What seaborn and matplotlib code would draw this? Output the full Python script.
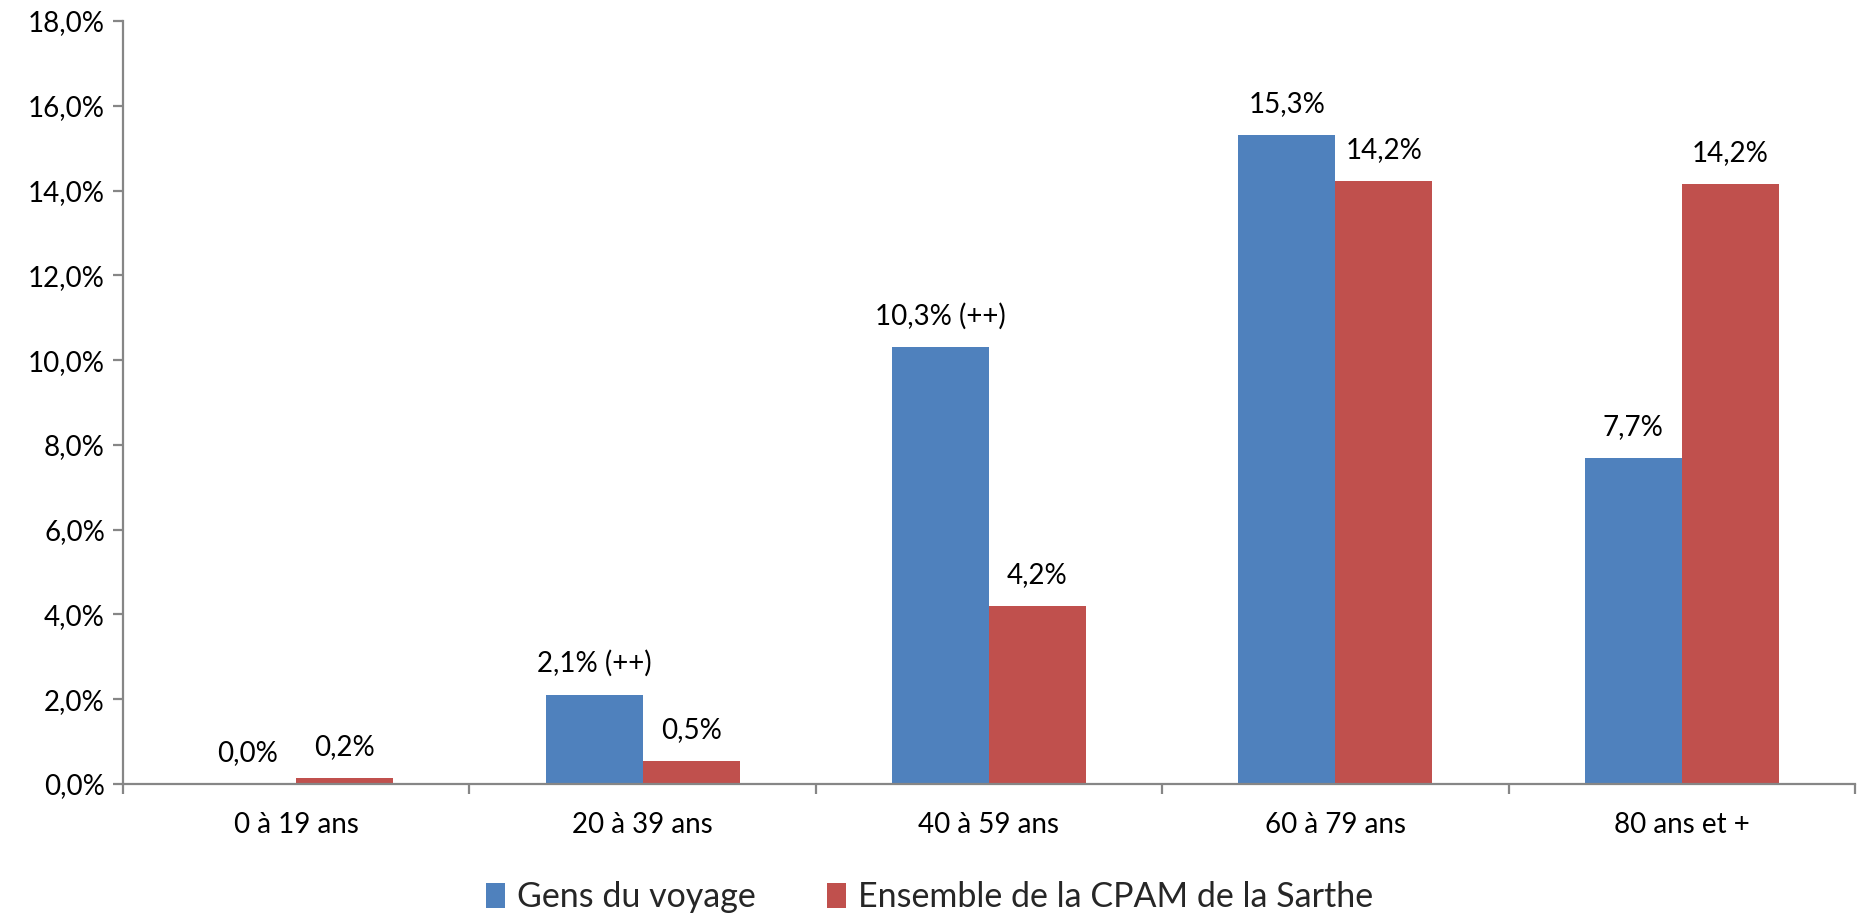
import matplotlib
matplotlib.use("Agg")
import matplotlib.pyplot as plt
import seaborn as sns
import pandas as pd
from matplotlib.patches import Patch
from matplotlib.ticker import FuncFormatter, FixedLocator

categories = ["0 à 19 ans", "20 à 39 ans", "40 à 59 ans", "60 à 79 ans", "80 ans et +"]
series_names = ["Gens du voyage", "Ensemble de la CPAM de la Sarthe"]
gens_values = [0.0, 2.1, 10.3, 15.3, 7.7]
cpam_values = [0.15, 0.54, 4.2, 14.22, 14.16]
gens_labels = ["0,0%", "2,1% (++)", "10,3% (++)", "15,3%", "7,7%"]
cpam_labels = ["0,2%", "0,5%", "4,2%", "14,2%", "14,2%"]
y_ticks = [0, 2, 4, 6, 8, 10, 12, 14, 16, 18]

colors = ["#4F81BD", "#C0504D"]
axis_color = "#868686"

sns.set_theme(style="white")
plt.rcParams["font.family"] = ["Lato", "DejaVu Sans"]

df = pd.DataFrame({
    "cat": categories * 2,
    "serie": [series_names[0]] * len(categories) + [series_names[1]] * len(categories),
    "val": gens_values + cpam_values,
})

fig = plt.figure(figsize=(18.59, 9.16), dpi=100)
ax = fig.add_axes([123 / 1859, 1 - 784 / 916, (1855 - 123) / 1859, (784 - 21) / 916])

sns.barplot(data=df, x="cat", y="val", hue="serie", order=categories,
            hue_order=series_names, palette=colors, saturation=1,
            width=0.56, gap=0, errorbar=None, ax=ax, legend=False,
            linewidth=0, edgecolor="none")

ax.set_ylim(0, 18)
ax.set_xlim(-0.5, len(categories) - 0.5)
ax.yaxis.set_major_locator(FixedLocator(y_ticks))
ax.yaxis.set_major_formatter(FuncFormatter(lambda v, p: f"{v:.1f}%".replace(".", ",")))
ax.set_xlabel("")
ax.set_ylabel("")

for side in ["top", "right"]:
    ax.spines[side].set_visible(False)
for side in ["left", "bottom"]:
    ax.spines[side].set_color(axis_color)
    ax.spines[side].set_linewidth(1.6)

ax.tick_params(axis="y", which="major", left=True, length=7, width=1.6,
               color=axis_color, labelsize=20, labelcolor="black", pad=6)
ax.tick_params(axis="x", which="major", bottom=False, labelsize=20,
               labelcolor="black", pad=14)
ax.xaxis.set_minor_locator(FixedLocator([i - 0.5 for i in range(len(categories) + 1)]))
ax.tick_params(axis="x", which="minor", bottom=True, length=7, width=1.6,
               color=axis_color, direction="out")

for cont, labs in zip(ax.containers, [gens_labels, cpam_labels]):
    ax.bar_label(cont, labels=labs, padding=13, fontsize=20, color="black")

handles = [Patch(facecolor=c, edgecolor="none") for c in colors]
fig.legend(handles, series_names, loc="center", bbox_to_anchor=(0.5, 1 - 897 / 916),
           ncol=2, frameon=False, fontsize=24.5, handlelength=0.55, handleheight=0.75,
           handletextpad=0.35, columnspacing=2.1)

fig.savefig("out.png", dpi=100)
